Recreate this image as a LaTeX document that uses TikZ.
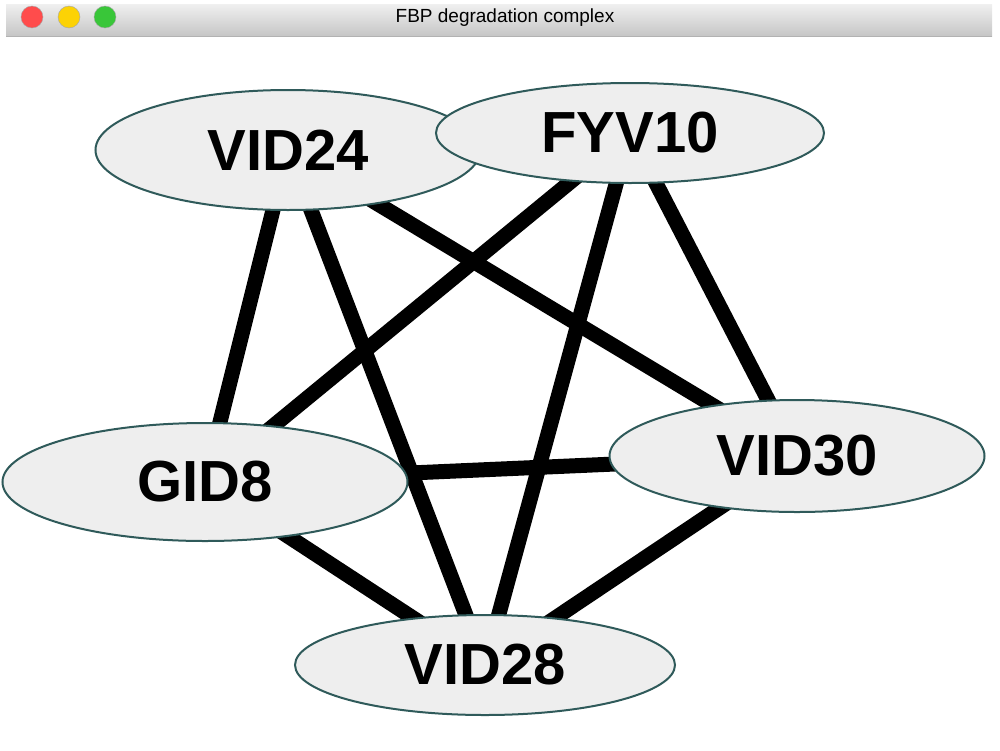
\documentclass[tikz,border=0pt]{standalone}
\usepackage{fontspec}
\setmainfont{Liberation Sans}
\usetikzlibrary{shapes.geometric,backgrounds}
\definecolor{edgeteal}{HTML}{2F5A5A}
\definecolor{fillg}{HTML}{EEEEEE}
\begin{document}
\begin{tikzpicture}[x=1pt,y=-1pt,
  prot/.style={ellipse,draw=edgeteal,line width=2pt,fill=fillg,inner sep=0pt,
    font=\fontsize{58}{58}\selectfont\bfseries},
  link/.style={line width=15pt,black},
  light/.style={circle,minimum size=22pt,inner sep=0pt,draw=gray!70}]
\useasboundingbox (0,0) rectangle (1000,750);
\shade[top color=gray!12,bottom color=gray!45] (6,4) rectangle (992,36);
\draw[gray!60,line width=1pt] (6,36) -- (992,36);
\node[light,fill=red!70] (r) at (32,17) {};
\node[light,fill=yellow!70!orange] (y) at (69,17) {};
\node[light,fill=green!55!gray] (g) at (105,17) {};
\node[font=\fontsize{19}{19}\selectfont] (title) at (505,18) {FBP degradation complex};
\node[prot,minimum width=385pt,minimum height=120pt] (v24) at (288,150) {VID24};
\node[prot,minimum width=388pt,minimum height=100pt] (f10) at (630,133) {FYV10};
\node[prot,minimum width=405pt,minimum height=118pt] (g8) at (205,482) {GID8};
\node[prot,minimum width=375pt,minimum height=112pt] (v30) at (797,456) {VID30};
\node[prot,minimum width=380pt,minimum height=100pt] (v28) at (485,665) {VID28};
\begin{pgfonlayer}{background}
\draw[link] (v24.center) -- (g8.center);
\draw[link] (v24.center) -- (v28.center);
\draw[link] (v24.center) -- (v30.center);
\draw[link] (f10.center) -- (g8.center);
\draw[link] (f10.center) -- (v28.center);
\draw[link] (f10.center) -- (v30.center);
\draw[link] (g8.center) -- (v30.center);
\draw[link] (g8.center) -- (v28.center);
\draw[link] (v30.center) -- (v28.center);
\end{pgfonlayer}
\end{tikzpicture}
\end{document}
